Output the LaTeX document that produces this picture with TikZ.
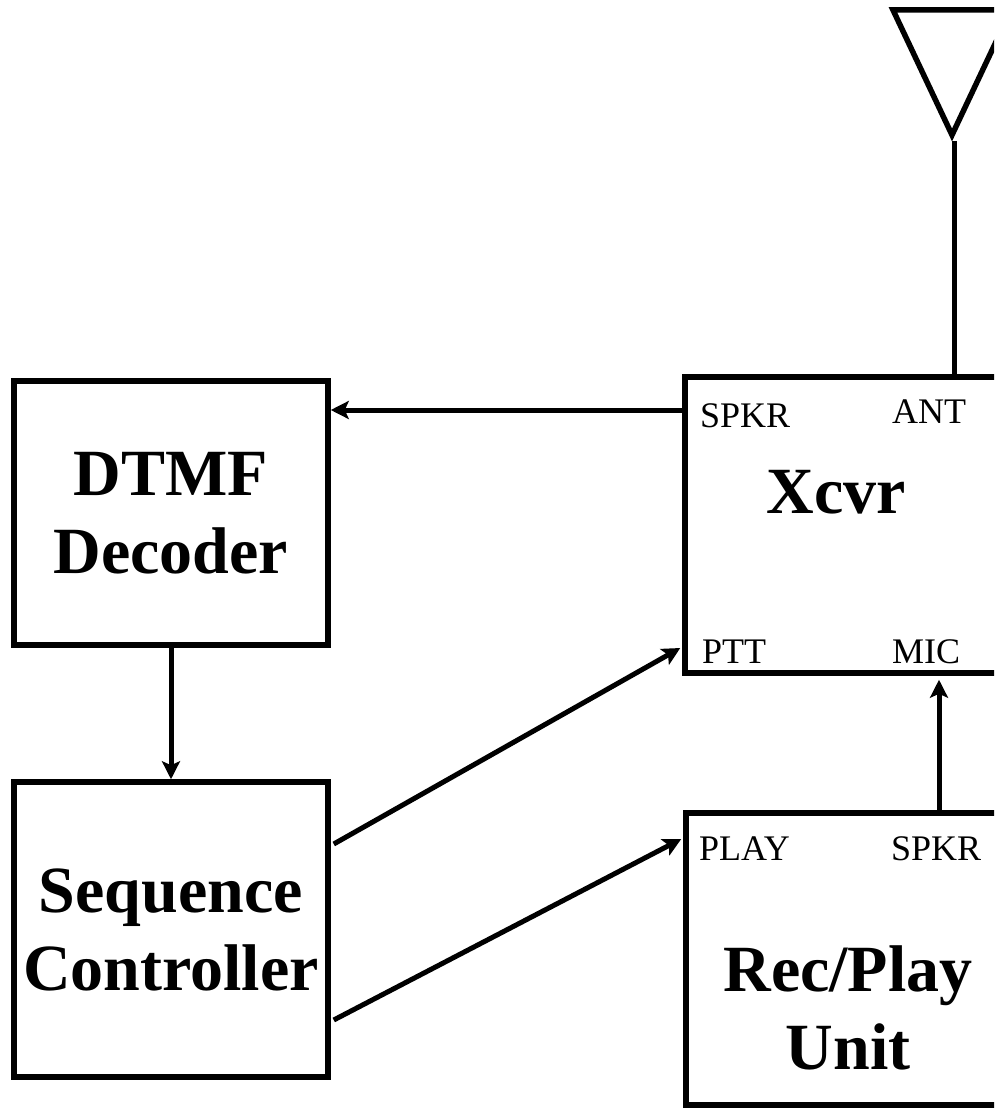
\documentclass[tikz,border=0pt]{standalone}
\usepackage{fontspec}
\setmainfont{Liberation Serif}
\usetikzlibrary{arrows.meta,calc}
\begin{document}
\begin{tikzpicture}[x=1pt,y=-1pt,
  box/.style={draw,line width=5.5pt,inner sep=0pt},
  big/.style={font=\fontsize{66}{78}\selectfont\bfseries,align=center,inner sep=0pt},
  port/.style={font=\fontsize{36}{40}\selectfont,inner sep=0pt,anchor=base west},
  conn/.style={line width=5pt,-{Stealth[length=18pt,width=18pt,inset=4pt]}},
  wire/.style={line width=5pt}
]
\clip (0,0) rectangle (994,1110);
% boxes
\node[box,big,minimum width=314pt,minimum height=264pt] (dtmf) at (171,513) {DTMF\\Decoder};
\node[box,big,minimum width=314pt,minimum height=295pt] (seq) at (171,929.5) {Sequence\\Controller};
\node[box,minimum width=325pt,minimum height=296pt] (xcvr) at (847.5,525) {};
\node[big,anchor=base] (xcvrname) at (836,513) {Xcvr};
\node[box,minimum width=324pt,minimum height=292pt] (rec) at (848,959) {};
\node[big,anchor=south] (recname) at (848,1070) {Rec/Play\\Unit};
% port labels
\node[port] (xspkr) at (700,427) {SPKR};
\node[port] (xant) at (892,423) {ANT};
\node[port] (xptt) at (702,663) {PTT};
\node[port] (xmic) at (892,663) {MIC};
\node[port] (rplay) at (699,860) {PLAY};
\node[port] (rspkr) at (891,860) {SPKR};
% antenna
\draw[line width=5.5pt,line join=miter] (893,10) -- (1011,10) -- (952,135) -- cycle;
\coordinate (antfoot) at (954,141);
\draw[wire] (antfoot) -- (xcvr.north -| antfoot);
% connectors
\draw[conn] (xcvr.west |- 0,410) -- (dtmf.east |- 0,410);
\draw[conn] (dtmf.south) -- (seq.north);
\draw[conn] ($(seq.east |- 0,844)+(3,0)$) -- ($(xcvr.west |- 0,648)+(-2,0)$);
\draw[conn] ($(seq.east |- 0,1020)+(3,0)$) -- ($(rec.west |- 0,839)+(-2,0)$);
\draw[conn] (rec.north -| 939,0) -- ($(xcvr.south -| 939,0)+(0,4)$);
\end{tikzpicture}
\end{document}
